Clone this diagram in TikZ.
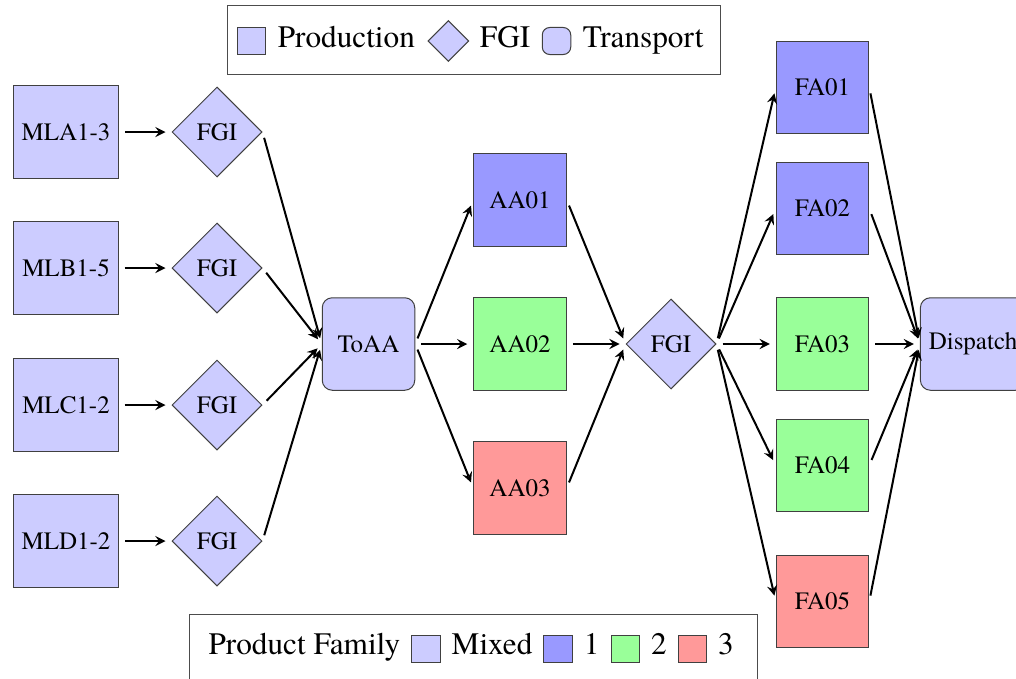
\documentclass[tikz,border=0pt]{standalone}
\usepackage{fontspec}
\setmainfont{texgyretermes-regular.otf}
\usetikzlibrary{shapes.geometric, positioning}
\tikzset{>=stealth}

\definecolor{mixedfill}{RGB}{204,204,255}
\definecolor{famone}{RGB}{153,153,255}
\definecolor{famtwo}{RGB}{153,255,153}
\definecolor{famthree}{RGB}{255,153,153}

\tikzset{
  prod/.style={draw=black!75, fill=mixedfill, minimum width=37pt, minimum height=37pt},
  fgi/.style={diamond, draw=black!75, fill=mixedfill, minimum size=36pt, inner sep=1pt},
  transp/.style={prod, rounded corners=4pt},
  flow/.style={->, thick, shorten >=2.4pt, shorten <=2.4pt},
  legframe/.style={draw=black!70, minimum height=27.2pt},
  legsq/.style={draw=black!75, minimum width=11.4pt, minimum height=10.8pt, inner sep=0pt},
  legdia/.style={diamond, draw=black!75, fill=mixedfill, minimum size=16.4pt, inner sep=0pt},
  legtxt/.style={inner sep=0pt, text height=0.7em, text depth=0.2em, font=\fontsize{12.5}{15}\selectfont}
}

\begin{document}
\begin{tikzpicture}[x=4pt, y=4pt]
\useasboundingbox (0,0) rectangle (101.6,67.8);

% legend: node types
\node[legframe, minimum width=197.2pt] (legtop) at (47.35,63.8) {};
\node[legsq, fill=mixedfill] (lprod) at (25.15,63.7) {};
\node[legtxt, right=4.4pt of lprod] (lprodtxt) {Production};
\node[legdia, right=4.8pt of lprodtxt] (lfgi) {};
\node[legtxt, right=4pt of lfgi] (lfgitxt) {FGI};
\node[legsq, fill=mixedfill, rounded corners=3pt, right=4.4pt of lfgitxt] (ltrans) {};
\node[legtxt, right=4.4pt of ltrans] (ltranstxt) {Transport};

% legend: product family
\node[legframe, minimum width=227.2pt] (legbot) at (47.3,3.0) {};
\node[legtxt, anchor=west] (lfam) at (20.8,2.95) {Product Family};
\node[legsq, fill=mixedfill, right=4.2pt of lfam] (lmix) {};
\node[legtxt, right=4.2pt of lmix] (lmixtxt) {Mixed};
\node[legsq, fill=famone, right=4.2pt of lmixtxt] (lone) {};
\node[legtxt, right=4.2pt of lone] (lonetxt) {1};
\node[legsq, fill=famtwo, right=4.2pt of lonetxt] (ltwo) {};
\node[legtxt, right=4.2pt of ltwo] (ltwotxt) {2};
\node[legsq, fill=famthree, right=4.2pt of ltwotxt] (lthree) {};
\node[legtxt, right=4.2pt of lthree] (lthreetxt) {3};

% main lines and their FGI
\foreach \n/\lab/\y in {a/MLA1-3/54.6, b/MLB1-5/41.0, c/MLC1-2/27.3, d/MLD1-2/13.7} {
  \node[prod] (ml\n) at (6.6,\y) {\lab};
  \node[fgi] (fgi\n) at (21.7,\y) {FGI};
}

\node[transp] (toaa) at (36.85,33.4) {ToAA};

\node[prod, fill=famone] (aa1) at (52.0,47.8) {AA01};
\node[prod, fill=famtwo] (aa2) at (52.0,33.4) {AA02};
\node[prod, fill=famthree] (aa3) at (52.0,19.0) {AA03};

\node[fgi] (fgim) at (67.1,33.4) {FGI};

\node[prod, fill=famone] (fa1) at (82.25,59.05) {FA01};
\node[prod, fill=famone] (fa2) at (82.25,46.95) {FA02};
\node[prod, fill=famtwo] (fa3) at (82.25,33.4) {FA03};
\node[prod, fill=famtwo] (fa4) at (82.25,21.25) {FA04};
\node[prod, fill=famthree] (fa5) at (82.25,7.65) {FA05};

\node[transp] (disp) at (97.3,33.4) {Dispatch};

% flows
\foreach \n in {a,b,c,d} {
  \draw[flow] (ml\n.east) -- (fgi\n.west);
  \draw[flow] (fgi\n.east) -- (toaa.west);
}
\foreach \n in {1,2,3} {
  \draw[flow] (toaa.east) -- (aa\n.west);
  \draw[flow] (aa\n.east) -- (fgim.west);
}
\foreach \n in {1,...,5} {
  \draw[flow] (fgim.east) -- (fa\n.west);
  \draw[flow] (fa\n.east) -- (disp.west);
}
\end{tikzpicture}
\end{document}
